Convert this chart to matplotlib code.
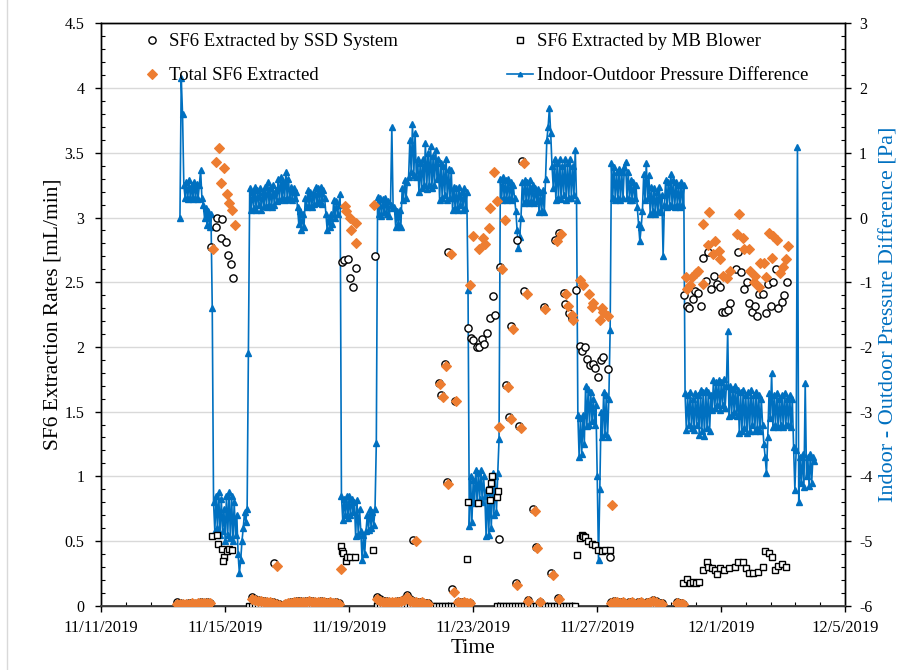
import numpy as np
import matplotlib
matplotlib.use("Agg")
import matplotlib.pyplot as plt
from matplotlib.ticker import MultipleLocator, FixedLocator, FuncFormatter
from matplotlib.lines import Line2D

plt.rcParams['font.family'] = ['Liberation Serif', 'DejaVu Serif']
plt.rcParams['axes.unicode_minus'] = False

# ---------------------------------------------------------------------------
# Time axis: days since 11/11/2019 00:00
# ---------------------------------------------------------------------------
date_ticks = [0, 4, 8, 12, 16, 20, 24]
date_labels = ["11/11/2019", "11/15/2019", "11/19/2019", "11/23/2019",
               "11/27/2019", "12/1/2019", "12/5/2019"]

# Sampling times of the idle (near-zero) periods
idle_a = [2.45, 2.55, 2.65, 2.74, 2.84, 2.94, 3.03, 3.13, 3.23, 3.32, 3.42, 3.52]
idle_c = [4.87, 4.97, 5.06, 5.16, 5.26, 5.35, 5.45, 5.55, 5.65, 5.74, 5.84, 5.94,
          6.03, 6.13, 6.23, 6.32, 6.42, 6.52, 6.61, 6.71, 6.81, 6.90, 7.00, 7.10,
          7.19, 7.29, 7.39, 7.48, 7.58, 7.68]
idle_d = [8.90, 9.00, 9.10, 9.19, 9.29, 9.39, 9.48, 9.58, 9.68, 9.77, 9.87, 9.97,
          10.06, 10.16, 10.26, 10.35, 10.45, 10.55]
idle_e = [11.52, 11.61, 11.71, 11.81, 11.90]
idle_g = [16.45, 16.55, 16.65, 16.74, 16.84, 16.94, 17.03, 17.13, 17.23, 17.32,
          17.42, 17.52, 17.61, 17.71, 17.81, 17.90, 18.00, 18.10]
idle_h = [18.58, 18.65, 18.71, 18.77]

# ---------------------------------------------------------------------------
# SF6 extracted by the SSD system [mL/min]
# ---------------------------------------------------------------------------
ssd_idle_a = [0.03, 0.02, 0.015, 0.01, 0.02, 0.02, 0.015, 0.02, 0.025, 0.02, 0.025, 0.02]
ssd_idle_c = [0.065, 0.05, 0.045, 0.04, 0.035, 0.03, 0.03, 0.025, 0.02, 0.01, 0.0, 0.01,
              0.02, 0.025, 0.03, 0.035, 0.035, 0.03, 0.035, 0.04, 0.035, 0.03, 0.03,
              0.035, 0.03, 0.025, 0.03, 0.02, 0.025, 0.02]
ssd_idle_d = [0.07, 0.05, 0.04, 0.035, 0.03, 0.03, 0.03, 0.035, 0.04, 0.05, 0.08, 0.05,
              0.035, 0.03, 0.025, 0.03, 0.02, 0.02]
ssd_idle_e = [0.03, 0.025, 0.03, 0.02, 0.02]
ssd_idle_g = [0.03, 0.035, 0.03, 0.025, 0.03, 0.02, 0.025, 0.03, 0.02, 0.025, 0.03,
              0.02, 0.025, 0.03, 0.045, 0.035, 0.02, 0.02]
ssd_idle_h = [0.03, 0.02, 0.02, 0.01]

ssd_days = ([3.55, 3.70, 3.74, 3.91, 3.87, 4.04, 4.09, 4.19, 4.25, 5.59,
             7.78, 7.85, 7.97, 8.03, 8.13, 8.23, 8.83, 10.07]
            + [10.91, 10.97, 11.10, 11.17, 11.20, 11.31, 11.42, 11.85, 11.93, 12.01,
               12.12, 12.20, 12.28, 12.35, 12.46, 12.55, 12.65, 12.70, 12.85, 12.87,
               13.06, 13.17, 13.24, 13.38, 13.41, 13.49, 13.57, 13.66, 13.77, 13.95,
               14.03, 14.16, 14.28, 14.53, 14.65, 14.75, 14.77, 14.92, 14.97, 15.11,
               15.18, 15.31, 15.45, 15.51, 15.62, 15.69, 15.76, 15.88, 15.94, 16.02,
               16.13, 16.20, 16.36, 16.42]
            + [18.81, 18.91, 18.98, 19.09, 19.16, 19.27, 19.35, 19.43, 19.52, 19.59,
               19.68, 19.78, 19.86, 19.97, 20.02, 20.13, 20.22, 20.29, 20.48, 20.56,
               20.65, 20.74, 20.83, 20.90, 20.99, 21.10, 21.17, 21.24, 21.36, 21.44,
               21.51, 21.61, 21.69, 21.77, 21.85, 21.96, 22.04, 22.12])
ssd_vals = ([2.77, 2.93, 3.00, 2.99, 2.84, 2.81, 2.71, 2.64, 2.53, 0.33,
             2.66, 2.67, 2.68, 2.53, 2.46, 2.61, 2.70, 0.51]
            + [1.72, 1.63, 1.87, 0.955, 2.735, 0.127, 1.58, 2.15, 2.07, 2.05,
               2.0, 2.0, 2.06, 2.02, 2.11, 2.22, 2.39, 2.25, 0.515, 2.62,
               1.705, 1.455, 2.16, 0.178, 2.83, 1.385, 3.435, 2.43, 0.045, 0.747,
               0.456, 0.03, 2.31, 0.25, 2.83, 0.057, 2.88, 2.42, 2.33, 2.26,
               2.22, 2.44, 2.01, 1.97, 2.0, 1.91, 1.86, 1.87, 1.84, 1.77,
               1.90, 1.92, 1.83, 0.38]
            + [2.40, 2.32, 2.30, 2.37, 2.43, 2.42, 2.32, 2.69, 2.51, 2.73,
               2.45, 2.55, 2.49, 2.46, 2.27, 2.27, 2.285, 2.34, 2.60, 2.73,
               2.58, 2.45, 2.50, 2.34, 2.27, 2.32, 2.24, 2.41, 2.41, 2.26,
               2.49, 2.32, 2.50, 2.60, 2.30, 2.345, 2.40, 2.50])

# ---------------------------------------------------------------------------
# SF6 extracted by the MB blower [mL/min]
# ---------------------------------------------------------------------------
mb_days = ([3.58, 3.73, 3.78, 3.89, 3.97, 3.95, 4.05, 4.14, 4.22]
           + [7.73, 7.76, 7.82, 7.90, 7.94, 8.03, 8.18, 8.78]
           + [11.80, 11.85, 12.17, 12.53, 12.55, 12.57, 12.60, 12.76, 12.82]
           + [15.37, 15.45, 15.51, 15.56, 15.61, 15.72, 15.83, 15.94, 16.04, 16.15,
              16.26, 16.42]
           + [18.76, 18.91, 19.00, 19.11, 19.19, 19.30, 19.43, 19.54, 19.59, 19.70,
              19.81, 19.88, 19.97, 20.10, 20.27, 20.45, 20.56, 20.72, 20.81, 20.91,
              21.04, 21.20, 21.36, 21.42, 21.56, 21.64, 21.74, 21.85, 21.96, 22.10])
mb_vals = ([0.54, 0.55, 0.48, 0.435, 0.38, 0.345, 0.42, 0.44, 0.43]
           + [0.46, 0.425, 0.405, 0.345, 0.38, 0.375, 0.375, 0.43]
           + [0.36, 0.80, 0.79, 0.895, 0.82, 0.95, 1.0, 0.84, 0.89]
           + [0.39, 0.52, 0.546, 0.54, 0.533, 0.50, 0.48, 0.47, 0.43, 0.42,
              0.43, 0.43]
           + [0.173, 0.21, 0.173, 0.186, 0.173, 0.186, 0.276, 0.34, 0.297, 0.289,
              0.276, 0.245, 0.289, 0.276, 0.289, 0.30, 0.335, 0.335, 0.289, 0.25,
              0.25, 0.258, 0.297, 0.425, 0.41, 0.38, 0.276, 0.31, 0.32, 0.30])
# Blower idle: nothing extracted at these times
blower_off_e = [10.71, 10.81, 10.90, 11.00, 11.10, 11.19, 11.29, 11.39, 11.48,
                11.58, 11.68, 11.77, 11.87]
blower_off_f = [12.77, 12.87, 12.97, 13.06, 13.16, 13.26, 13.35, 13.45, 13.55,
                13.65, 13.74, 13.84, 13.94, 14.03, 14.13, 14.23, 14.32, 14.42,
                14.52, 14.61, 14.71, 14.81, 14.90, 15.00, 15.10, 15.19, 15.29]
mb_off_days = (idle_a + [4.77] + idle_c + idle_d + blower_off_e + blower_off_f
               + [16.42] + idle_g + idle_h)

# ---------------------------------------------------------------------------
# Total SF6 extracted [mL/min]
# ---------------------------------------------------------------------------
tot_idle_a = [0.015, 0.015, 0.01, 0.01, 0.015, 0.02, 0.015, 0.02, 0.02, 0.02, 0.02, 0.02]
tot_idle_c = [0.05, 0.045, 0.04, 0.035, 0.03, 0.03, 0.025, 0.02, 0.015, 0.005, 0.0, 0.01,
              0.02, 0.02, 0.025, 0.03, 0.03, 0.025, 0.03, 0.035, 0.03, 0.025, 0.025,
              0.03, 0.025, 0.02, 0.025, 0.02, 0.02, 0.015]
tot_idle_d = [0.055, 0.04, 0.03, 0.03, 0.025, 0.025, 0.025, 0.03, 0.035, 0.045, 0.07,
              0.04, 0.03, 0.025, 0.02, 0.025, 0.015, 0.015]
tot_idle_e = [0.03, 0.02, 0.03, 0.02, 0.02]
tot_idle_g = [0.02, 0.03, 0.025, 0.02, 0.025, 0.015, 0.02, 0.025, 0.015, 0.02, 0.025,
              0.015, 0.02, 0.03, 0.04, 0.03, 0.015, 0.015]
tot_idle_h = [0.02, 0.015, 0.015, 0.01]

tot_days = ([3.62, 3.71, 3.80, 3.98, 3.87, 4.05, 4.14, 4.23, 4.32, 5.67,
             7.74, 7.87, 7.90, 8.02, 8.05, 8.23, 8.22, 8.81, 10.15]
            + [10.95, 11.02, 11.13, 11.20, 11.29, 11.39, 11.44, 11.90, 12.01, 12.19,
               12.33, 12.39, 12.52, 12.56, 12.69, 12.77, 12.85, 12.95, 13.03, 13.12,
               13.22, 13.28, 13.41, 13.54, 13.65, 13.73, 13.78, 14.00, 14.07, 14.16,
               14.31, 14.59, 14.71, 14.76, 14.84, 15.00, 15.05, 15.18, 15.24, 15.45,
               15.56, 15.74, 15.83, 15.88, 16.10, 16.15, 16.20, 16.36, 16.47]
            + [18.86, 18.89, 19.00, 19.05, 19.19, 19.27, 19.43, 19.43, 19.57, 19.62,
               19.75, 19.81, 19.94, 19.97, 20.07, 20.18, 20.29, 20.53, 20.58, 20.72,
               20.74, 20.90, 20.94, 21.07, 21.10, 21.23, 21.26, 21.40, 21.45, 21.56,
               21.64, 21.69, 21.80, 21.90, 21.99, 22.10, 22.15])
tot_vals = ([2.76, 3.43, 3.535, 3.385, 3.27, 3.18, 3.11, 3.06, 2.945, 0.31,
             0.28, 3.09, 3.05, 3.00, 2.90, 2.96, 2.80, 3.10, 0.50]
            + [1.71, 1.615, 1.85, 0.94, 2.715, 0.106, 1.58, 2.48, 2.86, 2.76,
               2.84, 2.795, 2.92, 3.07, 3.35, 3.13, 1.38, 2.60, 2.98, 1.69,
               1.44, 2.14, 0.16, 1.375, 3.42, 2.41, 0.04, 0.73, 0.443, 0.03,
               2.29, 0.237, 2.82, 0.05, 2.87, 2.41, 2.32, 2.25, 2.21, 2.52,
               2.48, 2.41, 2.31, 2.34, 2.21, 2.30, 2.27, 2.24, 0.778]
            + [2.54, 2.45, 2.48, 2.54, 2.57, 2.59, 2.49, 2.95, 2.79, 3.04,
               2.72, 2.82, 2.74, 2.68, 2.55, 2.53, 2.59, 2.87, 3.03, 2.84,
               2.755, 2.76, 2.59, 2.50, 2.55, 2.46, 2.65, 2.65, 2.54, 2.88,
               2.685, 2.86, 2.83, 2.57, 2.62, 2.68, 2.78])

# ---------------------------------------------------------------------------
# Indoor-outdoor pressure difference [Pa], logged hourly
# ---------------------------------------------------------------------------
p_start_day = 2.548
p_step_days = 1.0 / 24.0
p_nov13 = [0.0, 2.15, 1.6, 0.5, 0.3, 0.55, 0.28, 0.58, 0.3, 0.5, 0.28, 0.55, 0.3,
           0.52, 0.28, 0.5, 0.73, 0.3, 0.2, 0.0, 0.15, -0.12, 0.1, -0.15, 0.05, -1.4]
p_nov14 = [-4.4, -4.85, -4.3, -4.8, -4.25, -4.9, -4.35, -4.85, -4.5, -5.0, -4.3, -4.9,
           -4.25, -4.95, -4.3, -5.0, -4.4, -4.9, -4.6, -5.2, -5.5, -5.3, -5.0, -4.8,
           -4.55, -4.7, -4.5, -2.1]
p_nov15 = [0.45, 0.12, 0.4, 0.15, 0.47, 0.11, 0.42, 0.2, 0.45, 0.12, 0.4, 0.18,
           0.47, 0.16, 0.55, 0.2, 0.45, 0.16, 0.5, 0.2, 0.42, 0.25,
           0.6, 0.27, 0.63, 0.3, 0.55, 0.27, 0.71, 0.3, 0.6, 0.28,
           0.47, 0.27, 0.45, 0.3, 0.4,
           0.16, -0.1, 0.1, -0.2, 0.05, -0.15,
           0.3, 0.16, 0.42, 0.18, 0.4, 0.16, 0.38,
           0.21, 0.47, 0.22, 0.45, 0.25, 0.47, 0.21, 0.42, 0.3,
           0.06, -0.2, 0.0, -0.15, 0.05, -0.1,
           0.27, 0.0, 0.25, 0.05, 0.2, 0.37]
p_nov18 = [-4.3, -4.67, -4.35, -4.6, -4.3, -4.65, -4.3, -4.6, -4.35, -4.55,
           -4.4, -4.93, -4.36, -4.9, -4.5, -4.85, -5.3, -4.9, -5.2, -4.85,
           -4.6, -4.83, -4.5, -4.8, -4.55, -4.75, -4.5, -3.49]
p_nov19 = [0.32, 0.05, 0.3, 0.02, 0.28, 0.08, 0.3, 0.05, 0.25, 0.02,
           0.2, 1.4, 0.15,
           0.16, -0.15, 0.1, -0.1, 0.12, -0.15,
           0.45, 0.27, 0.58, 0.3, 0.55,
           0.63, 1.2, 0.7, 1.45, 0.65, 1.3, 0.63,
           0.9, 0.4, 0.85, 0.45, 0.9, 0.5,
           1.15, 0.44, 1.0, 0.5, 1.1, 0.45, 0.95, 0.5, 1.05, 0.6,
           0.9, 0.27, 0.85, 0.3, 0.8, 0.35, 0.9, 0.27, 0.75, 0.3,
           0.74, 0.12, 0.47, 0.15, 0.45, 0.12, 0.47, 0.2, 0.4, 0.12, 0.45, 0.15, 0.4,
           -1.12]
p_nov22 = [-4.77, -4.0, -4.7, -4.05,
           -4.42, -3.9, -4.4, -3.95, -4.35, -3.9, -4.4, -4.0, -4.3,
           -4.93, -4.2, -4.9, -4.25, -4.8,
           -3.95, -4.6, -4.0, -4.55, -3.95, -3.43]
p_nov23 = [0.6, 0.27, 0.63, 0.3, 0.58, 0.27, 0.6, 0.3, 0.55, 0.27, 0.5, 0.3,
           0.1, -0.2, -0.47, -0.3, 0.0,
           0.55, 0.22, 0.58, 0.25, 0.55, 0.22, 0.58, 0.25, 0.5, 0.22, 0.45, 0.25,
           0.44, 0.08, 0.4, 0.1, 0.42, 0.08,
           0.6, 1.2, 1.4, 1.7, 1.3, 0.8, 0.45,
           0.9, 0.27, 0.85, 0.3, 0.9, 0.28, 0.8, 0.35, 0.9, 0.27, 0.85, 0.3, 0.9,
           0.3, 0.8, 0.35, 1.05, 0.27]
p_nov26 = [-3.05, -3.7, -3.1, -3.65, -3.05, -3.5,
           -2.6, -3.22, -2.65, -3.2, -2.7, -3.15, -2.8,
           -3.2, -2.9, -4.0, -5.3, -4.2, -3.0,
           -3.4, -2.7, -3.35, -2.75, -3.4, -2.8, -1.74]
p_nov27 = [0.84, 0.3, 0.78, 0.27, 0.7, 0.3, 0.75, 0.27, 0.7, 0.3, 0.78, 0.86, 0.3, 0.7,
           0.27, 0.58, 0.27, 0.55, 0.3, 0.5,
           0.16, -0.1, -0.37, -0.15, 0.1,
           0.68, 0.27, 0.84, 0.3, 0.65,
           0.06, 0.47, 0.1, 0.45, 0.06, 0.4, 0.1, 0.47, 0.08, 0.35,
           -0.6, 0.2, 0.58, 0.16, 0.55, 0.2, 0.68, 0.18, 0.58, 0.16, 0.55, 0.2, 0.5,
           0.16, 0.55, 0.2, 0.5]
p_nov29 = [-2.72, -3.29, -2.75, -3.2, -2.7, -3.25, -2.8, -3.29, -2.72, -3.2, -2.75,
           -3.36, -2.66, -3.3, -2.7, -3.38, -2.66, -3.25, -2.7, -3.3, -2.75,
           -2.97, -2.51, -2.95, -2.55, -2.9, -2.51, -2.97, -2.55, -2.9, -2.5, -2.95,
           -2.6, -1.75,
           -3.07, -2.6, -3.05, -2.65, -3.0, -2.6, -3.07,
           -2.66, -3.33, -2.7, -3.3, -2.66, -3.25, -2.75, -3.33, -2.7, -3.3, -2.66,
           -3.2, -2.75, -3.3, -2.7, -3.25, -2.75, -3.3,
           -2.8, -3.2, -3.5, -3.7, -3.95, -3.4,
           -2.72, -3.1, -2.41, -3.24, -2.75, -3.2, -2.72, -3.24, -2.8, -3.2, -2.75,
           -3.24, -2.72, -3.2, -2.8, -3.2, -2.75, -3.24, -2.8]
p_dec3 = [-3.54, -4.21, -3.6, 1.09, -4.39, -3.7, -4.1, -3.65, -4.17, -2.56, -4.0,
          -3.7, -4.15, -3.65, -4.1, -3.7, -3.77]

# ---------------------------------------------------------------------------
# Assemble series
# ---------------------------------------------------------------------------
ssd_x = idle_a + idle_c + idle_d + idle_e + idle_g + idle_h + ssd_days
ssd_y = ssd_idle_a + ssd_idle_c + ssd_idle_d + ssd_idle_e + ssd_idle_g + ssd_idle_h + ssd_vals
tot_x = idle_a + idle_c + idle_d + idle_e + idle_g + idle_h + tot_days
tot_y = tot_idle_a + tot_idle_c + tot_idle_d + tot_idle_e + tot_idle_g + tot_idle_h + tot_vals
mb_x = mb_off_days + mb_days
mb_y = list(np.zeros(len(mb_off_days))) + mb_vals

p_vals = (p_nov13 + p_nov14 + p_nov15 + p_nov18 + p_nov19 + p_nov22 + p_nov23
          + p_nov26 + p_nov27 + p_nov29 + p_dec3)
p_days = p_start_day + np.arange(len(p_vals)) * p_step_days

# ---------------------------------------------------------------------------
# Figure
# ---------------------------------------------------------------------------
BLUE = '#0070C0'
ORANGE = '#ED7D31'
GRID = '#D9D9D9'

fig = plt.figure(figsize=(8.99, 6.70), dpi=100)
ax = fig.add_axes([0.1123, 0.096, 0.8277, 0.869])
ax2 = ax.twinx()

# SF6 markers sit above the pressure trace
ax.set_zorder(2)
ax2.set_zorder(1)
ax.patch.set_visible(False)

h_p, = ax2.plot(p_days, p_vals, color=BLUE, lw=1.2, marker='^', ms=3.8,
                mfc=BLUE, mec=BLUE,
                label='Indoor-Outdoor Pressure Difference', zorder=3)

h_ssd, = ax.plot(ssd_x, ssd_y, ls='none', marker='o', ms=5.2, mfc='white',
                 mec='black', mew=1.0, label='SF6 Extracted by SSD System', zorder=3)
h_mb, = ax.plot(mb_x, mb_y, ls='none', marker='s', ms=5.0, mfc='white',
                mec='black', mew=1.0, label='SF6 Extracted by MB Blower', zorder=4)
h_tot, = ax.plot(tot_x, tot_y, ls='none', marker='D', ms=4.6, mfc=ORANGE,
                 mec=ORANGE, mew=0.8, label='Total SF6 Extracted', zorder=5)

# Axes limits and ticks
ax.set_xlim(0, 24)
ax.set_ylim(0, 4.5)
ax2.set_ylim(-6, 3)

ax.xaxis.set_major_locator(FixedLocator(date_ticks))
ax.set_xticklabels(date_labels)
ax.xaxis.set_minor_locator(MultipleLocator(0.8))
ax.yaxis.set_major_locator(MultipleLocator(0.5))
ax.yaxis.set_minor_locator(MultipleLocator(0.1))
ax.yaxis.set_major_formatter(FuncFormatter(lambda v, p: f"{v:g}"))
ax2.yaxis.set_major_locator(MultipleLocator(1))
ax2.yaxis.set_minor_locator(MultipleLocator(0.2))
ax2.yaxis.set_major_formatter(FuncFormatter(lambda v, p: f"{v:g}"))

ax.tick_params(axis='both', which='major', direction='out', length=4, width=1,
               labelsize=11.5, colors='black')
ax.tick_params(axis='x', which='major', pad=6, labelsize=12)
ax.tick_params(axis='y', which='major', pad=8)
ax.tick_params(axis='both', which='minor', direction='in', length=3, width=0.8)
ax.tick_params(axis='x', which='both', top=False)
ax.tick_params(axis='y', which='both', right=False)
ax2.tick_params(axis='y', which='major', direction='out', length=4, width=1,
                labelsize=11.5, pad=6)
ax2.tick_params(axis='y', which='minor', direction='in', length=3, width=0.8)

# Gridlines live on the lower axes so the data covers them
ax2.set_axisbelow(True)
ax2.xaxis.set_major_locator(FixedLocator(date_ticks))
ax2.grid(True, which='major', axis='both', color=GRID, lw=1.0, zorder=0)
ax2.tick_params(axis='x', which='both', bottom=False, top=False, labelbottom=False)

for a in (ax, ax2):
    for s in a.spines.values():
        s.set_color('black')
        s.set_linewidth(1.0)
ax.spines['bottom'].set_linewidth(1.3)
ax.spines['bottom'].set_color('#404040')

# Axis titles
ax.set_ylabel('SF6 Extraction Rates [mL/min]', fontsize=15.5)
ax.yaxis.set_label_coords(-0.052, 0.5)
ax.set_xlabel('Time', fontsize=15.5)
ax.xaxis.set_label_coords(0.5, -0.057)
ax.xaxis.label.set_verticalalignment('top')
ax2.set_ylabel('Indoor - Outdoor Pressure Difference [Pa]', fontsize=16, color=BLUE)
ax2.yaxis.set_label_coords(1.046, 0.5)

# Legend in two columns, each anchored separately
leg_kw = dict(loc='upper left', frameon=False, borderpad=0, borderaxespad=0,
              handlelength=1.4, handletextpad=0.2, labelspacing=0.9,
              fontsize=13.5, bbox_transform=fig.transFigure)
leg1 = ax.legend([h_ssd, h_tot], ['SF6 Extracted by SSD System', 'Total SF6 Extracted'],
                 bbox_to_anchor=(139 / 899, 1 - 33 / 670), **leg_kw)
ax.add_artist(leg1)
leg2 = ax.legend([h_mb, h_p], ['SF6 Extracted by MB Blower',
                               'Indoor-Outdoor Pressure Difference'],
                 bbox_to_anchor=(507 / 899, 1 - 33 / 670), **leg_kw)
leg2.get_lines()[1].set_markersize(3.2)

# Thin chart-area edge on the left
fig.add_artist(Line2D([7 / 899, 7 / 899], [0, 1], transform=fig.transFigure,
                      color='#D9D9D9', lw=1.0))

fig.savefig('out.png', dpi=100)
